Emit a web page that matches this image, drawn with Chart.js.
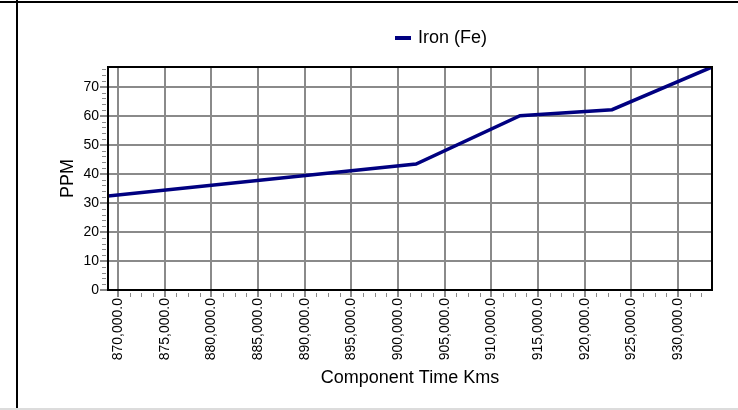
<!DOCTYPE html>
<html lang="en">
<head>
  <meta charset="UTF-8" />
  <title>Iron (Fe) PPM</title>
  <script src="https://cdn.jsdelivr.net/npm/chart.js"></script>
  <style>
    body {
      margin: 0;
      background: #ffffff;
      font-family: 'Liberation Sans', Arial, sans-serif;
    }
    .frame {
      position: relative;
      width: 738px;
      height: 410px;
      overflow: hidden;
    }
    /* page borders around the chart */
    .top-line { position: absolute; left: 0; top: 1px; width: 738px; height: 2px; background: #000; }
    .left-line { position: absolute; left: 16px; top: 0; width: 2px; height: 410px; background: #000; }
    .bottom-line { position: absolute; left: 0; top: 408px; width: 738px; height: 2px; background: #dcdcdc; }
    canvas { position: absolute; left: 0; top: 0; }
  </style>
</head>
<body>
  <div class="frame">
    <div class="top-line"></div>
    <div class="left-line"></div>
    <div class="bottom-line"></div>
    <canvas id="ironChart" width="738" height="410"></canvas>
  </div>

  <script>
    // values
    const kms = [868930, 901930, 913070, 922930, 933640];
    const ironPpm = [32.4, 43.4, 60.0, 62.1, 76.8];

    const xTickValues = [870000, 875000, 880000, 885000, 890000, 895000, 900000,
                         905000, 910000, 915000, 920000, 925000, 930000];
    const yTickValues = [0, 10, 20, 30, 40, 50, 60, 70];
    const xMinorStep = 1250;
    const yMinorStep = 2;

    const gridGray = '#8a8a8a';
    const fontFamily = "'Liberation Sans', Arial, sans-serif";

    // frame, minor ticks and legend
    const extras = {
      id: 'extras',
      afterDraw(chart) {
        const { ctx, chartArea: a, scales: { x, y } } = chart;
        ctx.save();

        ctx.strokeStyle = '#000';
        ctx.lineWidth = 2;
        ctx.strokeRect(a.left, a.top, a.right - a.left, a.bottom - a.top);

        ctx.strokeStyle = gridGray;
        ctx.lineWidth = 1;
        ctx.beginPath();
        for (let v = Math.ceil(x.min / xMinorStep) * xMinorStep; v <= x.max; v += xMinorStep) {
          if (v % 5000 === 0) continue;
          const px = Math.round(x.getPixelForValue(v)) + 0.5;
          ctx.moveTo(px, a.bottom + 3);
          ctx.lineTo(px, a.bottom + 7);
        }
        for (let v = 0; v <= y.max; v += yMinorStep) {
          if (v % 10 === 0) continue;
          const py = Math.round(y.getPixelForValue(v)) + 0.5;
          ctx.moveTo(a.left - 6, py);
          ctx.lineTo(a.left - 2, py);
        }
        ctx.stroke();

        // legend
        const ds = chart.data.datasets[0];
        ctx.strokeStyle = ds.borderColor;
        ctx.lineWidth = 4;
        ctx.beginPath();
        ctx.moveTo(395, 38);
        ctx.lineTo(411, 38);
        ctx.stroke();
        ctx.fillStyle = '#000';
        ctx.font = '18px ' + fontFamily;
        ctx.textBaseline = 'middle';
        ctx.fillText(ds.label, 418, 38);

        ctx.restore();
      }
    };

    new Chart(document.getElementById('ironChart'), {
      type: 'line',
      data: {
        datasets: [{
          label: 'Iron (Fe)',
          data: kms.map((k, i) => ({ x: k, y: ironPpm[i] })),
          borderColor: '#000080',
          borderWidth: 3.5,
          pointRadius: 0,
          tension: 0,
          fill: false
        }]
      },
      options: {
        responsive: false,
        animation: false,
        layout: { padding: { top: 67, right: 26, left: 0, bottom: 0 } },
        plugins: {
          legend: { display: false },
          tooltip: { enabled: false }
        },
        scales: {
          x: {
            type: 'linear',
            min: kms[0],
            max: kms[kms.length - 1],
            afterBuildTicks: s => { s.ticks = xTickValues.map(v => ({ value: v })); },
            afterFit: s => { s.height = 120; },
            ticks: {
              autoSkip: false,
              minRotation: 90,
              maxRotation: 90,
              padding: 1,
              color: '#000',
              font: { family: fontFamily, size: 14 },
              callback: v => Number(v).toLocaleString('en-US', { minimumFractionDigits: 1, maximumFractionDigits: 1 })
            },
            grid: { color: gridGray, lineWidth: 2, tickLength: 7, tickColor: gridGray },
            border: { color: '#000', width: 2 },
            title: {
              display: true,
              text: 'Component Time Kms',
              color: '#000',
              font: { family: fontFamily, size: 18 },
              padding: { bottom: 21 }
            }
          },
          y: {
            min: 0,
            max: 76.8,
            afterBuildTicks: s => { s.ticks = yTickValues.map(v => ({ value: v })); },
            afterFit: s => { s.width = 108; },
            ticks: {
              padding: 1,
              color: '#000',
              font: { family: fontFamily, size: 14 }
            },
            grid: { color: gridGray, lineWidth: 2, tickLength: 8, tickColor: gridGray },
            border: { color: '#000', width: 2 },
            title: {
              display: true,
              text: 'PPM',
              color: '#000',
              font: { family: fontFamily, size: 18 },
              padding: { top: 57 }
            }
          }
        }
      },
      plugins: [extras]
    });
  </script>
</body>
</html>
